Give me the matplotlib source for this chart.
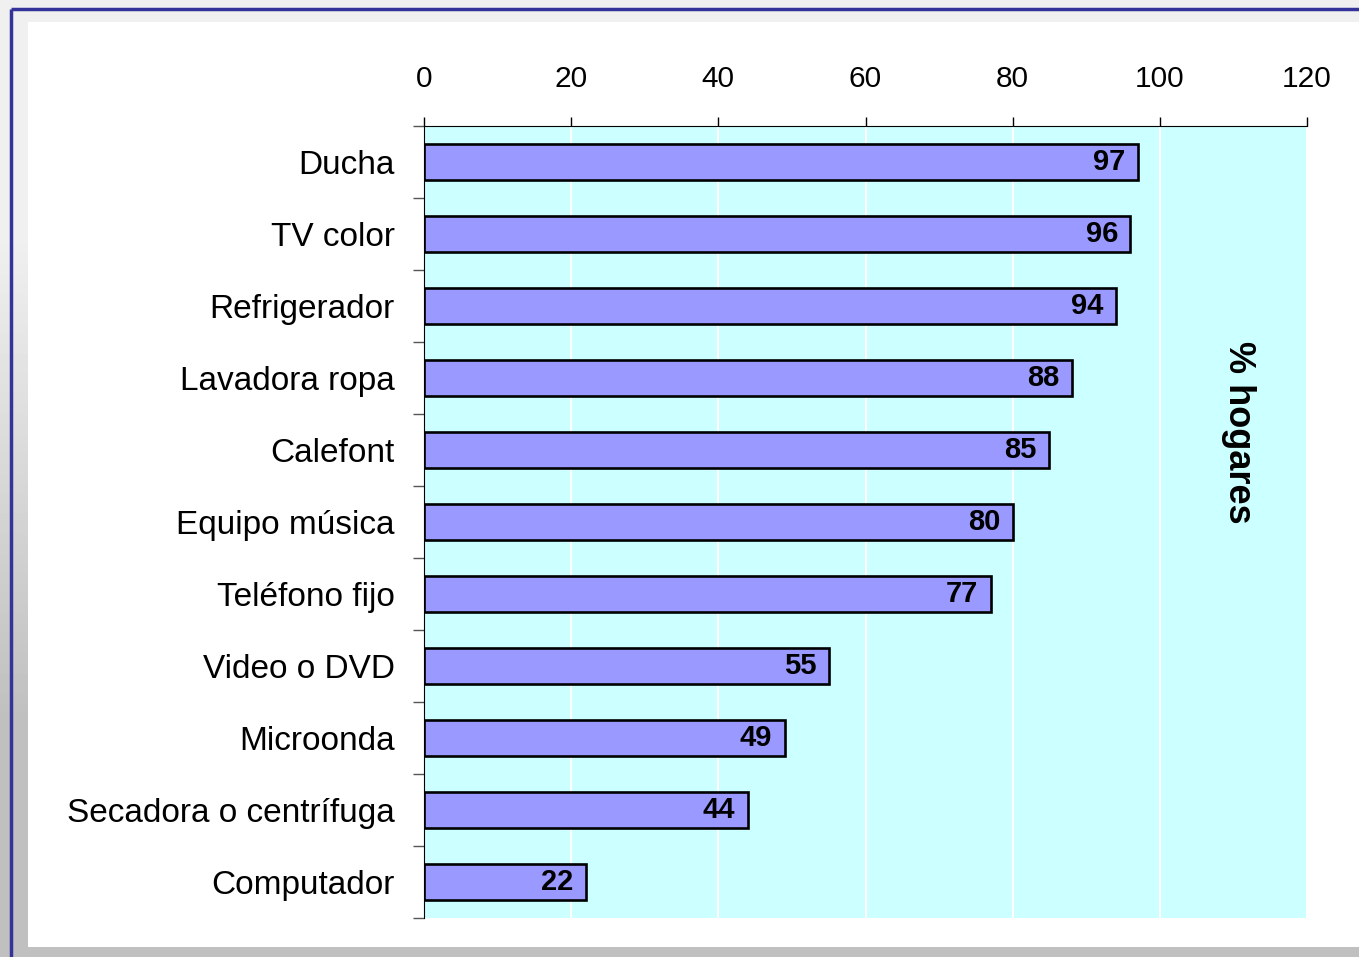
import numpy as np
import matplotlib.pyplot as plt
from matplotlib.patches import Rectangle
from matplotlib.ticker import FixedLocator

# datos: % de hogares con cada equipamiento
categorias = ['Ducha', 'TV color', 'Refrigerador', 'Lavadora ropa', 'Calefont',
              'Equipo música', 'Teléfono fijo', 'Video o DVD', 'Microonda',
              'Secadora o centrífuga', 'Computador']
valores = [97, 96, 94, 88, 85, 80, 77, 55, 49, 44, 22]
ticks_x = [0, 20, 40, 60, 80, 100, 120]

plt.rcParams['font.family'] = ['Liberation Sans', 'DejaVu Sans']

W, H = 1359, 957
fig = plt.figure(figsize=(W / 100, H / 100), dpi=100)

# fondo con degradado gris
bg = fig.add_axes([0, 0, 1, 1], zorder=-10)
bg.imshow(np.array([[0.94], [0.753]]), aspect='auto', cmap='gray', vmin=0, vmax=1,
          extent=[0, 1, 0, 1], interpolation='bilinear')
bg.set_xlim(0, 1)
bg.set_ylim(0, 1)
bg.axis('off')

# marco azul y panel blanco
bg.plot([11 / W, 1], [1 - 9 / H, 1 - 9 / H], color='#333399', lw=2.5, solid_capstyle='butt')
bg.plot([11 / W, 11 / W], [0, 1 - 9 / H], color='#333399', lw=2.5, solid_capstyle='butt')
bg.add_patch(Rectangle((28 / W, 10 / H), 1 - 28 / W, 925 / H, facecolor='white',
                       edgecolor='none'))

ax = fig.add_axes([424 / W, 39 / H, 883 / W, 792 / H])
ax.set_facecolor('#CCFFFF')

y = np.arange(len(categorias))
ax.barh(y, valores, height=0.5, color='#9999FF', edgecolor='black', linewidth=1.9,
        zorder=3)

for yi, v in zip(y, valores):
    ax.annotate(str(v), (v, yi), xytext=(-9, 0), textcoords='offset points',
                ha='right', va='center', fontsize=21, fontweight='bold', zorder=4)

ax.set_xlim(0, 120)
ax.set_ylim(len(categorias) - 0.5, -0.5)

ax.xaxis.tick_top()
ax.set_xticks(ticks_x)
ax.set_xticklabels([str(t) for t in ticks_x])
ax.tick_params(axis='x', direction='out', length=6.5, width=1, pad=17, labelsize=21.5,
               colors='black')
ax.grid(axis='x', color='white', lw=1.5, zorder=1)

ax.set_yticks(y)
ax.set_yticklabels(categorias)
ax.tick_params(axis='y', which='major', length=0, pad=21, labelsize=24)
ax.yaxis.set_minor_locator(FixedLocator(np.arange(-0.5, len(categorias), 1)))
ax.tick_params(axis='y', which='minor', length=8, width=1, color='#555555')

for s in ['right', 'bottom']:
    ax.spines[s].set_visible(False)
ax.spines['left'].set_color('black')
ax.spines['top'].set_color('black')
ax.spines['left'].set_zorder(5)

ax.text(0.922, 0.613, '% hogares', transform=ax.transAxes, rotation=270,
        ha='center', va='center', fontsize=26, fontweight='bold')

fig.savefig('out.png', dpi=100)
